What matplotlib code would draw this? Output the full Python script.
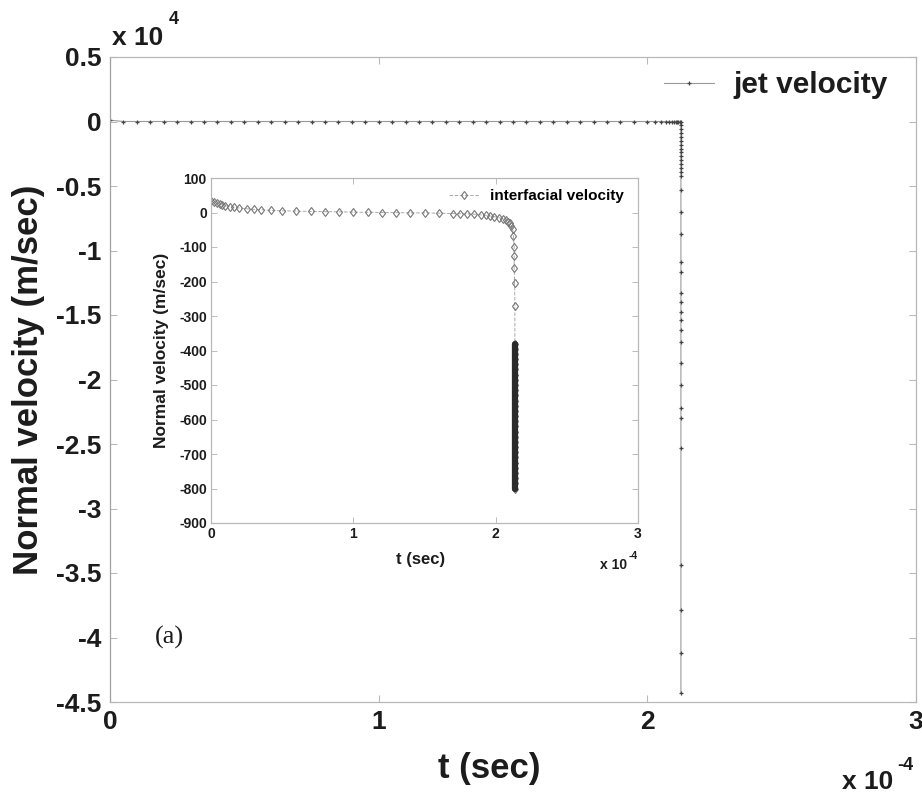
import numpy as np
import matplotlib
matplotlib.use("Agg")
import matplotlib.pyplot as plt

plt.rcParams['font.family'] = ['Liberation Sans', 'DejaVu Sans']
plt.rcParams['axes.unicode_minus'] = False

# ---------------- data (t in 1e-4 s, jet velocity in 1e4 m/s, inset in m/s) ----------------
jet_t_flat = [0.00, 0.05, 0.10, 0.15, 0.20, 0.25, 0.30, 0.35, 0.40, 0.45, 0.50, 0.55, 0.60,
              0.65, 0.70, 0.75, 0.80, 0.85, 0.90, 0.95, 1.00, 1.05, 1.10, 1.15, 1.20, 1.25,
              1.30, 1.35, 1.40, 1.45, 1.50, 1.55, 1.60, 1.65, 1.70, 1.75, 1.80, 1.85, 1.90,
              1.95, 2.00, 2.03, 2.05, 2.07, 2.08, 2.09, 2.10, 2.105, 2.11, 2.115, 2.12]
jet_v_flat = [0.01, 0.0, 0.0, 0.0, 0.0, 0.0, 0.0, 0.0, 0.0, 0.0, 0.0, 0.0, 0.0,
              0.0, 0.0, 0.0, 0.0, 0.0, 0.0, 0.0, 0.0, 0.0, 0.0, 0.0, 0.0, 0.0,
              0.0, 0.0, 0.0, 0.0, 0.0, 0.0, 0.0, 0.0, 0.0, 0.0, 0.0, 0.0, 0.0,
              0.0, 0.0, 0.0, 0.0, 0.0, 0.0, 0.0, 0.0, 0.0, 0.0, 0.0, 0.0]
jet_drop_t = 2.125
jet_drop_v = [0.0, -0.03, -0.06, -0.09, -0.12, -0.15, -0.18, -0.21, -0.24, -0.27, -0.30,
              -0.33, -0.36, -0.39, -0.42, -0.53, -0.70, -0.87, -1.09, -1.17, -1.33, -1.40,
              -1.48, -1.54, -1.62, -1.71, -1.87, -2.04, -2.22, -2.30, -2.53, -3.44, -3.79,
              -4.12, -4.43]

int_t = [0.00, 0.02, 0.04, 0.06, 0.08, 0.10, 0.13, 0.16, 0.20, 0.25, 0.30, 0.35, 0.42,
         0.50, 0.60, 0.70, 0.80, 0.90, 1.00, 1.10, 1.20, 1.30, 1.40, 1.50, 1.60, 1.70,
         1.75, 1.80, 1.85, 1.90, 1.93, 1.96, 1.99, 2.02, 2.05, 2.07, 2.09, 2.10, 2.11,
         2.12, 2.125, 2.13, 2.13, 2.13, 2.133, 2.135]
int_v = [32, 30, 27, 25, 22, 20, 17, 15, 13, 11, 9, 8, 6,
         5, 4, 3, 2.5, 2, 1, 0.5, 0, -0.5, -1, -1, -2, -3,
         -3.5, -4, -5, -7, -8, -10, -12, -15, -18, -22, -27, -31, -38,
         -49, -69, -101, -127, -160, -203, -272]
int_bar_t = 2.135
int_bar_v = [-380, -395, -410, -425, -440, -455, -470, -485, -500, -515, -530, -545,
             -560, -575, -590, -605, -620, -635, -650, -665, -680, -695, -710, -725,
             -740, -755, -770, -785, -800]

main_yticks = [0.5, 0, -0.5, -1, -1.5, -2, -2.5, -3, -3.5, -4, -4.5]
main_ytick_labels = ['0.5', '0', '-0.5', '-1', '-1.5', '-2', '-2.5', '-3', '-3.5', '-4', '-4.5']
main_xticks = [0, 1, 2, 3]
inset_yticks = [100, 0, -100, -200, -300, -400, -500, -600, -700, -800, -900]
inset_xticks = [0, 1, 2, 3]

W, H = 922, 794
fig = plt.figure(figsize=(W / 100, H / 100), dpi=100)
fig.patch.set_facecolor('white')

def fx(px):
    return px / W

def fy(py):
    return 1 - py / H

TXT = '#1c1c1c'
FRAME = '#b8b8b8'

# ---------------- main axes ----------------
ax = fig.add_axes([fx(110), fy(702), fx(916) - fx(110), fy(57) - fy(702)])
jet_t = jet_t_flat + [jet_drop_t] * len(jet_drop_v)
jet_v = jet_v_flat + jet_drop_v
ax.plot(jet_t, jet_v, color='#9a9a9a', lw=0.8, marker='+', ms=3.5, mew=0.9,
        mec='#444444', label='jet velocity')
ax.set_xlim(0, 3)
ax.set_ylim(-4.5, 0.5)
ax.set_xticks(main_xticks)
ax.set_xticklabels([str(v) for v in main_xticks])
ax.set_yticks(main_yticks)
ax.set_yticklabels(main_ytick_labels)
for s in ax.spines.values():
    s.set_color(FRAME)
    s.set_linewidth(0.9)
ax.spines['left'].set_color('#a0a0a0')
ax.tick_params(direction='in', length=5, width=0.8, color='#bbbbbb', top=True, right=True,
               labelsize=19, labelcolor=TXT, pad=6)
for lab in ax.get_xticklabels() + ax.get_yticklabels():
    lab.set_fontweight('bold')
ax.set_ylabel('Normal velocity (m/sec)', fontsize=25, fontweight='bold', color=TXT)
ax.yaxis.set_label_coords(-0.081, 0.5)
ax.set_xlabel('t (sec)', fontsize=25, fontweight='bold', color=TXT)
ax.xaxis.set_label_coords(0.47, -0.077)
leg = ax.legend(loc='center right', frameon=False, prop={'weight': 'bold', 'size': 21.5},
                handlelength=1.7, handletextpad=0.65, borderpad=0.4,
                bbox_to_anchor=((900 - 110) / 806, (702 - 85) / 645), borderaxespad=0.0)
for t in leg.get_texts():
    t.set_color(TXT)

fig.text(fx(112), fy(38), 'x 10', fontsize=19, fontweight='bold', color=TXT, va='center', ha='left')
fig.text(fx(169), fy(20), '4', fontsize=13, fontweight='bold', color=TXT, va='center', ha='left')
fig.text(fx(842), fy(782), 'x 10', fontsize=19, fontweight='bold', color=TXT, va='center', ha='left')
fig.text(fx(897), fy(765), '-4', fontsize=13, fontweight='bold', color=TXT, va='center', ha='left')
fig.text(fx(155), fy(637), '(a)', fontsize=19, family='Liberation Serif', color=TXT,
         va='center', ha='left')

# ---------------- inset axes ----------------
ins = fig.add_axes([fx(211), fy(523), fx(638) - fx(211), fy(178) - fy(523)])
ins.plot(int_t + [int_bar_t] * len(int_bar_v), int_v + int_bar_v, color='#aaaaaa', lw=0.7,
         ls='--', marker='d', ms=4.5, mfc='none', mec='#777777', mew=0.8,
         label='interfacial velocity')
ins.plot([int_bar_t] * len(int_bar_v), int_bar_v, color='#2a2a2a', lw=4.5,
         solid_capstyle='round')
ins.set_xlim(0, 3)
ins.set_ylim(-900, 100)
ins.set_xticks(inset_xticks)
ins.set_yticks(inset_yticks)
ins.set_xticklabels([str(v) for v in inset_xticks])
ins.set_yticklabels([str(v) for v in inset_yticks])
for s in ins.spines.values():
    s.set_color(FRAME)
    s.set_linewidth(0.9)
ins.tick_params(direction='in', length=4, width=0.7, color='#bbbbbb', top=True, right=True,
                labelsize=10, labelcolor=TXT, pad=3)
for lab in ins.get_xticklabels() + ins.get_yticklabels():
    lab.set_fontweight('bold')
ins.set_ylabel('Normal velocity (m/sec)', fontsize=12.5, fontweight='bold', color=TXT)
ins.yaxis.set_label_coords(-0.098, 0.5)
ins.set_xlabel('t (sec)', fontsize=12, fontweight='bold', color=TXT)
ins.xaxis.set_label_coords(0.49, -0.085)
leg2 = ins.legend(handles=[ins.lines[0]], loc='center right', frameon=False,
                  prop={'weight': 'bold', 'size': 11}, handlelength=2.0, handletextpad=0.65,
                  borderpad=0.3, borderaxespad=0.0,
                  bbox_to_anchor=((628 - 211) / 427, (523 - 196) / 345))
fig.text(fx(600), fy(565), 'x 10', fontsize=10, fontweight='bold', color=TXT, va='center', ha='left')
fig.text(fx(629), fy(556), '-4', fontsize=7.5, fontweight='bold', color=TXT, va='center', ha='left')

fig.savefig('out.png', dpi=100, facecolor='white')
